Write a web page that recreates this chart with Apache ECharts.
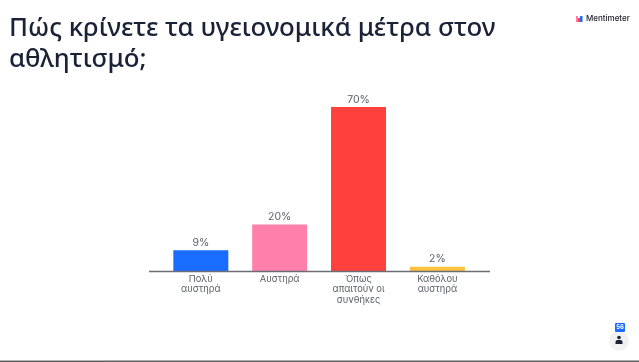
<!DOCTYPE html>
<html><head><meta charset="utf-8">
<style>html,body{margin:0;padding:0;background:#fff}#c{width:639px;height:362px}</style>
<script src="https://cdn.jsdelivr.net/npm/echarts@6/dist/echarts.min.js"></script>
</head><body><div id="c"></div>
<script>
const categories = ['Πολύ\nαυστηρά', 'Αυστηρά', 'Όπως\nαπαιτούν οι\nσυνθήκες', 'Καθόλου\nαυστηρά'];
const values = [9, 20, 70, 2];
const colors = ['#196cff', '#ff80ab', '#ff403d', '#fcc23e'];
const titleText = 'Πώς κρίνετε τα υγειονομικά μέτρα στον\nαθλητισμό;';
const brand = 'Mentimeter';
const respondents = '56';
const chart = echarts.init(document.getElementById('c'), null, {renderer: 'canvas'});
chart.setOption({
  animation: false,
  backgroundColor: '#fff',
  title: {text: titleText, left: 4, top: 8, textStyle: {fontFamily: 'Noto Sans', fontWeight: 500, fontSize: 25.8, lineHeight: 31, color: '#1a2238'}},
  grid: {left: 161.4, right: 162.2, top: 107, bottom: 90.5},
  xAxis: {type: 'category', data: categories,
    axisLine: {show: false}, axisTick: {show: false},
    axisLabel: {interval: 0, margin: 2, fontFamily: 'Inter', fontSize: 9.3, lineHeight: 10.5, color: '#5a5e68'}},
  yAxis: {type: 'value', min: 0, max: 70, show: false},
  series: [{type: 'bar', barWidth: 55,
    data: values.map((v, i) => ({value: v, itemStyle: {color: colors[i]}})),
    label: {show: true, position: 'top', distance: 2, formatter: '{c}%', fontFamily: 'Inter', fontSize: 10.5, color: '#5a5e68'}}],
  graphic: [
    {type: 'line', z: 10, shape: {x1: 149, y1: 271.5, x2: 490, y2: 271.5}, style: {stroke: '#6b6e75', lineWidth: 1.3}},
    {type: 'rect', shape: {x: 576, y: 16, width: 2, height: 6}, style: {fill: '#ff7fa8'}},
    {type: 'rect', shape: {x: 578, y: 18, width: 2, height: 4}, style: {fill: '#ff403d'}},
    {type: 'rect', shape: {x: 580, y: 16, width: 2.5, height: 6}, style: {fill: '#196cff'}},
    {type: 'text', style: {x: 586, y: 19, text: brand, fontFamily: 'Inter', fontSize: 8, fontWeight: 500, fill: '#20232c', verticalAlign: 'middle'}},
    {type: 'circle', shape: {cx: 619, cy: 341, r: 10}, style: {fill: '#f1f1f1'}},
    {type: 'rect', shape: {x: 615, y: 323, width: 10, height: 9, r: 1}, style: {fill: '#196cff'}},
    {type: 'text', style: {x: 620, y: 327.5, text: respondents, fontFamily: 'Inter', fontSize: 6, fontWeight: 700, fill: '#fff', align: 'center', verticalAlign: 'middle'}},
    {type: 'circle', shape: {cx: 619, cy: 337.5, r: 1.8}, style: {fill: '#1a2238'}},
    {type: 'rect', shape: {x: 615.5, y: 340, width: 7, height: 4, r: [2, 2, 0, 0]}, style: {fill: '#1a2238'}},
    {type: 'rect', shape: {x: 0, y: 360.5, width: 639, height: 1.5}, style: {fill: '#5f5f5f'}},
    {type: 'rect', shape: {x: 0, y: 360, width: 105, height: 1}, style: {fill: '#b5b5b5'}}
  ]
});
</script></body></html>
